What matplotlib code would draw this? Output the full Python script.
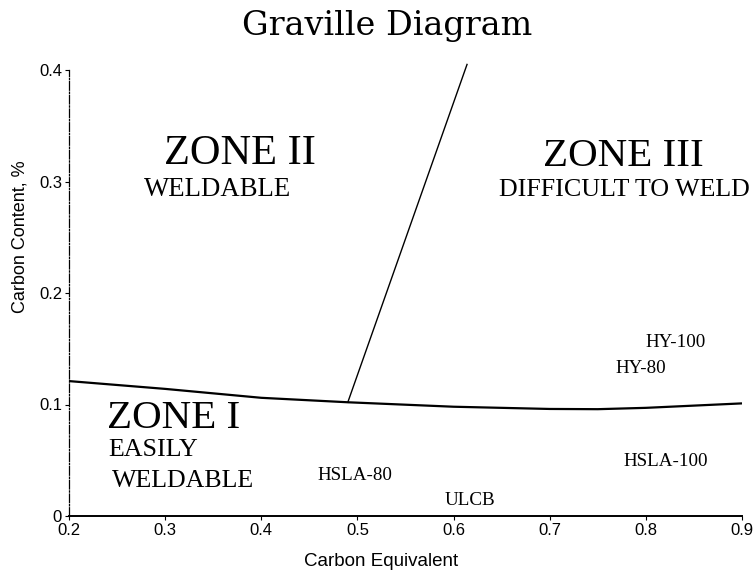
import matplotlib
matplotlib.use("Agg")
import matplotlib.pyplot as plt
import numpy as np

# Boundary curve between Zone I and Zones II/III
curve_ce = [0.2, 0.3, 0.4, 0.49, 0.6, 0.7, 0.75, 0.8, 0.9]
curve_c = [0.121, 0.114, 0.106, 0.102, 0.098, 0.096, 0.0958, 0.097, 0.101]

# Boundary line between Zone II and Zone III
line_ce = [0.49, 0.614]
line_c = [0.102, 0.405]

# Steel grade labels
grades = ["HSLA-80", "ULCB", "HY-100", "HY-80", "HSLA-100"]
grade_ce = [0.497, 0.617, 0.831, 0.795, 0.821]
grade_c = [0.036, 0.014, 0.156, 0.132, 0.049]

x_ticks = [0.2, 0.3, 0.4, 0.5, 0.6, 0.7, 0.8, 0.9]
x_ticklabels = ["0.2", "0.3", "0.4", "0.5", "0.6", "0.7", "0.8", "0.9"]
y_ticks = [0.0, 0.1, 0.2, 0.3, 0.4]
y_ticklabels = ["0", "0.1", "0.2", "0.3", "0.4"]

fig = plt.figure(figsize=(7.55, 5.75), dpi=100)
ax = fig.add_axes([69/755, 59/575, 673/755, 446/575])

ax.plot(curve_ce, curve_c, color="black", lw=1.6, solid_capstyle="butt")
ax.plot(line_ce, line_c, color="black", lw=1.0, clip_on=False)

ax.set_xlim(0.2, 0.9)
ax.set_ylim(0, 0.4)

for sp in ["top", "right"]:
    ax.spines[sp].set_visible(False)
ax.spines["left"].set_linestyle((0, (7, 1.5, 1, 1.5)))
ax.spines["left"].set_linewidth(0.9)
ax.spines["bottom"].set_linewidth(1.4)

ax.set_xticks(x_ticks)
ax.set_xticklabels(x_ticklabels, family="Liberation Sans", fontsize=12)
ax.set_yticks(y_ticks)
ax.set_yticklabels(y_ticklabels, family="Liberation Sans", fontsize=12)
ax.tick_params(axis="both", direction="out", length=3, width=0.8, pad=2)

fig.text(381/755, 1 - 561/575, "Carbon Equivalent", family="Liberation Sans",
         fontsize=13.5, ha="center", va="center")
fig.text(20/755, 1 - 237/575, "Carbon Content, %", family="Liberation Sans",
         fontsize=13, ha="center", va="center", rotation=90)
fig.text(387/755, 1 - 35/575, "Graville Diagram", family="DejaVu Serif",
         fontsize=24, ha="center", va="baseline")

serif = "Liberation Serif"
ax.text(0.24, 0.087, "ZONE I", family=serif, fontsize=29.5, ha="left", va="center")
ax.text(0.241, 0.059, "EASILY", family=serif, fontsize=18.7, ha="left", va="center")
ax.text(0.245, 0.031, "WELDABLE", family=serif, fontsize=18.7, ha="left", va="center")

ax.text(0.378, 0.325, "ZONE II", family=serif, fontsize=30.5, ha="center", va="center")
ax.text(0.355, 0.293, "WELDABLE", family=serif, fontsize=19.3, ha="center", va="center")

ax.text(0.777, 0.322, "ZONE III", family=serif, fontsize=29.5, ha="center", va="center")
ax.text(0.778, 0.292, "DIFFICULT TO WELD", family=serif, fontsize=18.7,
        ha="center", va="center", clip_on=False)

for g, xv, yv in zip(grades, grade_ce, grade_c):
    ax.text(xv, yv, g, family=serif, fontsize=13.7, ha="center", va="center")

fig.savefig("out.png", dpi=100)
